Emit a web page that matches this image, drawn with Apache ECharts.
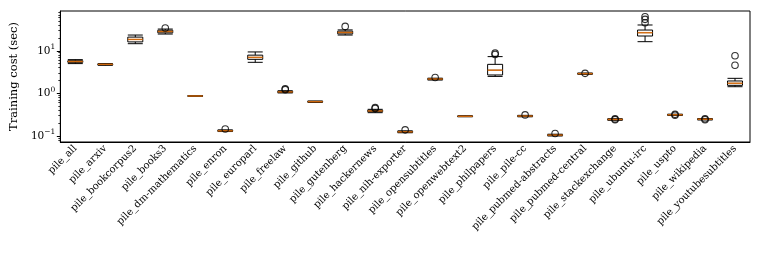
<!DOCTYPE html>
<html>
<head>
<meta charset="utf-8">
<script src="https://cdn.jsdelivr.net/npm/echarts@6/dist/echarts.min.js"></script>
<style>html,body{margin:0;padding:0;background:#fff}#c{width:761px;height:254px}</style>
</head>
<body>
<div id="c"></div>
<script>
const categories = ["pile_all","pile_arxiv","pile_bookcorpus2","pile_books3","pile_dm-mathematics","pile_enron","pile_europarl","pile_freelaw","pile_github","pile_gutenberg","pile_hackernews","pile_nih-exporter","pile_opensubtitles","pile_openwebtext2","pile_philpapers","pile_pile-cc","pile_pubmed-abstracts","pile_pubmed-central","pile_stackexchange","pile_ubuntu-irc","pile_uspto","pile_wikipedia","pile_youtubesubtitles"];
// [min, Q1, median, Q3, max]
const boxStats = [
  [5.0, 5.35, 5.6, 5.85, 6.2],
  [4.55, 4.7, 4.8, 4.9, 5.0],
  [14.7, 16.2, 18.5, 21.0, 23.5],
  [24.8, 26.5, 28.5, 30.5, 32.5],
  [0.85, 0.86, 0.865, 0.87, 0.88],
  [0.126, 0.129, 0.131, 0.134, 0.138],
  [5.36, 6.3, 7.0, 7.9, 9.4],
  [1.02, 1.05, 1.08, 1.11, 1.15],
  [0.61, 0.625, 0.635, 0.645, 0.66],
  [23.5, 25.0, 27.0, 29.0, 31.0],
  [0.35, 0.37, 0.385, 0.40, 0.42],
  [0.118, 0.121, 0.124, 0.127, 0.131],
  [2.05, 2.12, 2.17, 2.21, 2.27],
  [0.28, 0.285, 0.288, 0.291, 0.296],
  [2.5, 2.7, 3.5, 4.8, 7.3],
  [0.28, 0.287, 0.292, 0.297, 0.303],
  [0.099, 0.102, 0.104, 0.106, 0.109],
  [2.8, 2.86, 2.9, 2.94, 3.0],
  [0.232, 0.238, 0.243, 0.247, 0.252],
  [16.4, 22.3, 26.7, 30.8, 40.5],
  [0.3, 0.307, 0.312, 0.317, 0.323],
  [0.236, 0.241, 0.246, 0.25, 0.255],
  [1.43, 1.54, 1.72, 1.95, 2.25]
];
// [category index, value]
const outliers = [
  [3, 34.5],
  [5, 0.145],
  [7, 1.22], [7, 1.28],
  [9, 37.5],
  [10, 0.44], [10, 0.46],
  [11, 0.138],
  [12, 2.35],
  [14, 8.2], [14, 8.8],
  [15, 0.31],
  [16, 0.113],
  [17, 2.95],
  [18, 0.24], [18, 0.25],
  [19, 45.8], [19, 55.0], [19, 63.4],
  [20, 0.305], [20, 0.32],
  [21, 0.24], [21, 0.252],
  [22, 4.56], [22, 7.67]
];
const majorTicks = [0.1, 1, 10];
const minorTicks = [0.08, 0.09, 0.2, 0.3, 0.4, 0.5, 0.6, 0.7, 0.8, 0.9, 2, 3, 4, 5, 6, 7, 8, 9, 20, 30, 40, 50, 60, 70, 80];
const yMin = 0.0715, yMax = 86.4;

const FONT = "DejaVu Serif";
const chart = echarts.init(document.getElementById('c'), null, {renderer: 'canvas'});
const medians = boxStats.map((b, i) => [i, b[2]]);
chart.setOption({
  animation: false,
  textStyle: {fontFamily: FONT},
  grid: {left: 55, right: 11, top: 11, bottom: 112, show: true, borderColor: '#000', borderWidth: 1, backgroundColor: 'transparent'},
  xAxis: {
    type: 'category', data: categories, boundaryGap: true,
    axisLine: {lineStyle: {color: '#000', width: 1}},
    axisTick: {alignWithLabel: true, length: 3.5, lineStyle: {color: '#000'}},
    axisLabel: {rotate: 45, interval: 0, margin: 5, color: '#000', fontFamily: FONT, fontSize: 10}
  },
  yAxis: [{
    type: 'log', logBase: 10, min: yMin, max: yMax,
    name: 'Training cost (sec)', nameLocation: 'middle', nameGap: 34, nameRotate: 90,
    nameTextStyle: {color: '#000', fontFamily: FONT, fontSize: 11.5},
    axisLine: {show: true, lineStyle: {color: '#000', width: 1}},
    splitLine: {show: false},
    axisTick: {show: true, length: 3.5, customValues: majorTicks, lineStyle: {color: '#000'}},
    axisLabel: {
      customValues: majorTicks, margin: 5, color: '#000',
      formatter: function (v) {
        const e = Math.round(Math.log10(v));
        return '{b|10}{s|' + (e < 0 ? '\u2212' + (-e) : e) + '}';
      },
      rich: {
        b: {fontFamily: FONT, fontSize: 10.5, color: '#000'},
        s: {fontFamily: FONT, fontSize: 7.5, color: '#000', padding: [0, 0, 7, 0]}
      }
    }
  }, {
    type: 'log', logBase: 10, min: yMin, max: yMax, position: 'left',
    axisLine: {show: false}, splitLine: {show: false},
    axisLabel: {show: false},
    axisTick: {show: true, length: 2, customValues: minorTicks, lineStyle: {color: '#000', width: 0.8}}
  }],
  series: [{
    type: 'boxplot', data: boxStats, yAxisIndex: 0,
    boxWidth: [15, 15],
    itemStyle: {color: 'rgba(0,0,0,0)', borderColor: '#000', borderWidth: 1},
    z: 2
  }, {
    type: 'scatter', data: medians, yAxisIndex: 0,
    symbol: 'rect', symbolSize: [15, 1.5],
    itemStyle: {color: '#ff7f0e'}, z: 3
  }, {
    type: 'scatter', data: outliers, yAxisIndex: 0,
    symbol: 'circle', symbolSize: 6.5,
    itemStyle: {color: 'rgba(0,0,0,0)', borderColor: '#000', borderWidth: 1.1}, z: 4
  }]
});
</script>
</body>
</html>
